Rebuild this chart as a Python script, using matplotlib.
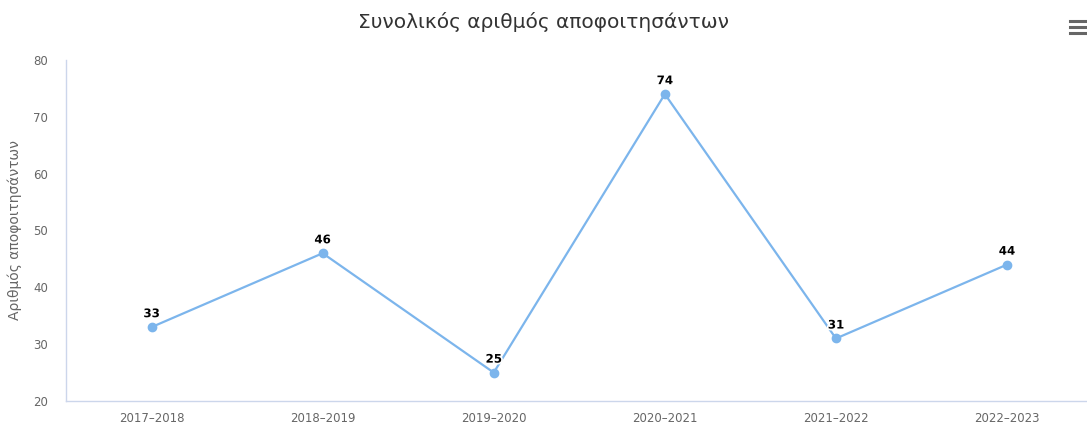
import matplotlib
matplotlib.use("Agg")
import matplotlib.pyplot as plt
import matplotlib.patheffects as pe
from matplotlib.lines import Line2D

categories = ["2017\u20132018", "2018\u20132019", "2019\u20132020", "2020\u20132021", "2021\u20132022", "2022\u20132023"]
values = [33, 46, 25, 74, 31, 44]
yticks = [20, 30, 40, 50, 60, 70, 80]

plt.rcParams['font.family'] = ['DejaVu Sans']
W, H = 1087, 428
fig = plt.figure(figsize=(W / 100, H / 100), dpi=100)
ax = fig.add_axes([66 / W, 27 / H, (1092.6 - 66) / W, (401 - 60) / H])

x = list(range(len(categories)))
ax.plot(x, values, color="#7cb5ec", lw=1.6, marker="o", ms=6, mec="#7cb5ec", mfc="#7cb5ec", zorder=3, clip_on=False)
for xi, v in zip(x, values):
    ax.annotate(str(v), (xi, v), xytext=(0, 5), textcoords="offset points", ha="center", va="bottom",
                fontsize=8.5, fontweight="bold", color="black",
                path_effects=[pe.withStroke(linewidth=2.5, foreground="white")], zorder=4)

ax.set_xlim(-0.5, len(categories) - 0.5)
ax.set_ylim(20, 80)
ax.set_yticks(yticks)
ax.set_xticks(x)
ax.set_xticklabels(categories)
ax.tick_params(axis="both", length=0, labelsize=8.5, colors="#666666")
ax.tick_params(axis="y", pad=13)
ax.tick_params(axis="x", pad=8)
for s in ["top", "right"]:
    ax.spines[s].set_visible(False)
for s in ["left", "bottom"]:
    ax.spines[s].set_color("#ccd6eb")
    ax.spines[s].set_linewidth(1)
ax.set_ylabel("Αριθμός αποφοιτησάντων", fontsize=10, color="#666666", labelpad=8)

fig.text(0.5, 1 - 22 / H, "Συνολικός αριθμός αποφοιτησάντων", ha="center", va="center",
         fontsize=14.5, color="#333333")

# menu icon
for yy in (21, 27, 33):
    fig.add_artist(Line2D([1070 / W, 1087 / W], [1 - yy / H, 1 - yy / H], color="#666666", lw=2.2,
                          transform=fig.transFigure))

fig.savefig("out.png", dpi=100, facecolor="white")
